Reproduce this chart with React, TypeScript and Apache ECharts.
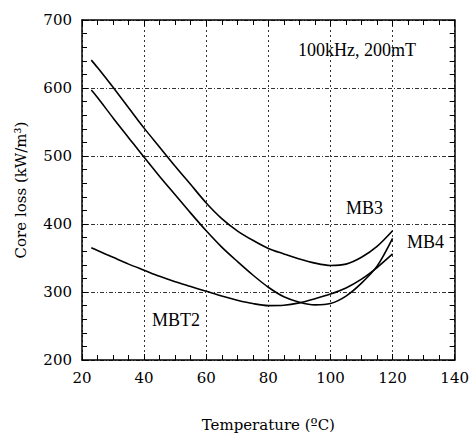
import React, { useEffect, useRef } from "react";
import * as echarts from "echarts";

const xTicks = [20, 40, 60, 80, 100, 120, 140];
const yTicks = [200, 300, 400, 500, 600, 700];

const temps = [23, 25, 30, 35, 40, 45, 50, 55, 60, 65, 70, 75, 80, 85, 90, 95, 100, 105, 110, 115, 120];
const mb3 = [641, 630, 601, 571, 541, 513, 485, 458, 431, 408, 390, 376, 364, 356, 348.5, 342.5, 339, 341, 351, 367, 390];
const mb4 = [597, 586, 556, 527, 498, 470, 443, 416, 390, 366, 345, 325, 307, 293, 285, 281, 283, 294, 313, 338, 379];
const mbt2 = [365, 361, 351, 341, 332, 323, 315, 308, 301, 294, 288, 283, 280, 280.5, 284, 290, 297, 306, 319, 336, 356];

const seriesNames = ["MB3", "MB4", "MBT2"];
const annotation = "100kHz, 200mT";
const xName = "Temperature (ºC)";
const yName = "Core loss (kW/m³)";

const FONT = "Liberation Serif";
const AXIS_FONT = "DejaVu Serif";

export default function App() {
  const ref = useRef<HTMLDivElement>(null);
  useEffect(() => {
    if (!ref.current) return;
    const chart = echarts.init(ref.current, null, { renderer: "svg" });
    const axisLine = { show: true, lineStyle: { color: "#000", width: 1.5 } };
    const tick = { show: true, inside: true, length: 6, lineStyle: { color: "#000", width: 1 } };
    const minor = (n: number) => ({ show: true, splitNumber: n, length: 5, lineStyle: { color: "#000", width: 1 } });
    const label = { fontFamily: AXIS_FONT, fontSize: 15, color: "#000" };
    const mkLine = (name: string, vals: number[]) => ({
      name,
      type: "line",
      data: temps.map((t, i) => [t, vals[i]]),
      smooth: 0.3,
      showSymbol: false,
      symbol: "none",
      lineStyle: { color: "#000", width: 1.6 },
      xAxisIndex: 0,
      yAxisIndex: 0,
    });
    const txt = (text: string, x: number, y: number) => ({
      type: "text",
      x,
      y,
      style: { text, font: `18px ${FONT}`, fill: "#000", verticalAlign: "middle" },
    });
    chart.setOption({
      animation: false,
      backgroundColor: "#fff",
      grid: { left: 82, right: 16, top: 20, bottom: 74 },
      xAxis: [
        {
          type: "value",
          min: xTicks[0],
          max: xTicks[xTicks.length - 1],
          interval: 20,
          position: "bottom",
          axisLine,
          axisTick: tick,
          minorTick: minor(4),
          axisLabel: { ...label, margin: 10 },
          splitLine: { show: true, lineStyle: { color: "#333", width: 1, type: [2, 3] } },
          name: xName,
          nameLocation: "middle",
          nameGap: 57,
          nameTextStyle: { ...label },
        },
        {
          type: "value",
          min: xTicks[0],
          max: xTicks[xTicks.length - 1],
          interval: 20,
          position: "top",
          axisLine,
          axisTick: tick,
          minorTick: minor(4),
          axisLabel: { show: false },
          splitLine: { show: false },
        },
      ],
      yAxis: [
        {
          type: "value",
          min: yTicks[0],
          max: yTicks[yTicks.length - 1],
          interval: 100,
          position: "left",
          axisLine,
          axisTick: tick,
          minorTick: minor(5),
          axisLabel: { ...label, margin: 10 },
          splitLine: { show: true, lineStyle: { color: "#333", width: 1, type: [4, 2, 1, 2] } },
          name: yName,
          nameLocation: "middle",
          nameGap: 54,
          nameTextStyle: { ...label },
        },
        {
          type: "value",
          min: yTicks[0],
          max: yTicks[yTicks.length - 1],
          interval: 100,
          position: "right",
          axisLine,
          axisTick: tick,
          minorTick: minor(5),
          axisLabel: { show: false },
          splitLine: { show: false },
        },
      ],
      series: [mkLine(seriesNames[0], mb3), mkLine(seriesNames[1], mb4), mkLine(seriesNames[2], mbt2)],
      graphic: [
        txt(annotation, 298, 50),
        txt(seriesNames[0], 346, 208),
        txt(seriesNames[1], 407, 242),
        txt(seriesNames[2], 152, 320),
      ],
    });
    return () => chart.dispose();
  }, []);
  return (
    <div
      ref={ref}
      style={{ position: "fixed", left: 0, top: 0, width: 472, height: 437 }}
    />
  );
}
